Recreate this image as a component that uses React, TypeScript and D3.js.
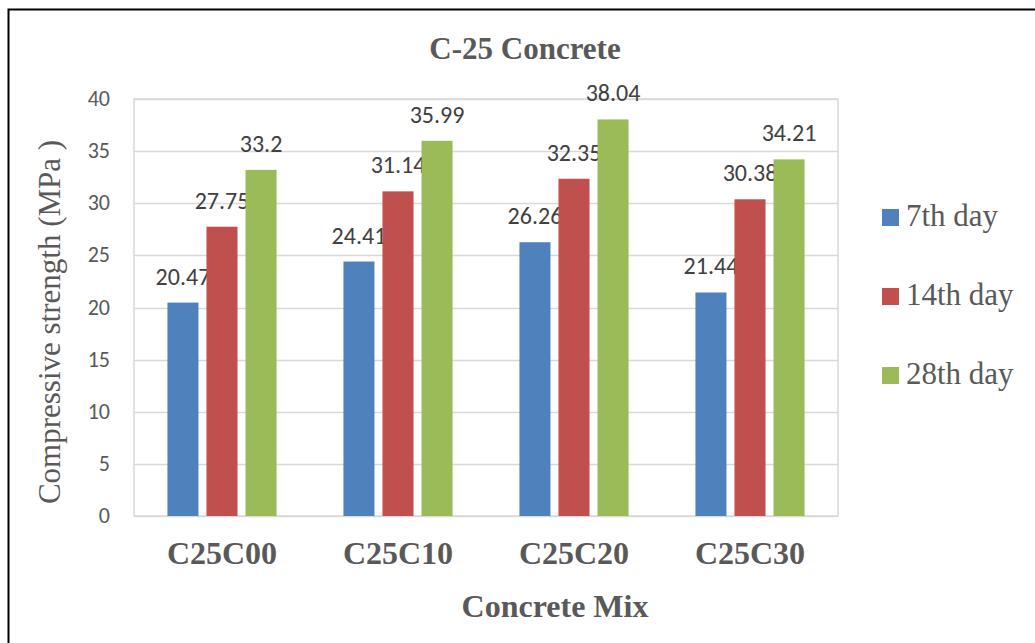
import * as d3 from "d3";

const mixes = ["C25C00", "C25C10", "C25C20", "C25C30"];
const seriesNames = ["7th day", "14th day", "28th day"];
const day7 = [20.47, 24.41, 26.26, 21.44];
const day14 = [27.75, 31.14, 32.35, 30.38];
const day28 = [33.2, 35.99, 38.04, 34.21];
const yTicks = [0, 5, 10, 15, 20, 25, 30, 35, 40];
const colors = ["#4F81BD", "#C0504D", "#9BBB59"];

const W = 1035;
const H = 643;
const plot = { left: 134, top: 99, right: 838, bottom: 516 };

export default function App() {
  const seriesValues = [day7, day14, day28];

  const x0 = d3
    .scaleBand<string>()
    .domain(mixes)
    .range([plot.left, plot.right])
    .paddingInner(0.38)
    .paddingOuter(0.19);

  const x1 = d3
    .scaleBand<string>()
    .domain(seriesNames)
    .range([0, x0.bandwidth()])
    .paddingInner(0.205)
    .paddingOuter(0);

  const y = d3.scaleLinear().domain([0, 40]).range([plot.bottom, plot.top]);

  const serif = "'Liberation Serif', 'Times New Roman', serif";
  const sans = "Carlito, 'Open Sans', 'Liberation Sans', sans-serif";

  return (
    <svg
      width={W}
      height={H}
      style={{ position: "absolute", left: 0, top: 0, background: "#fff" }}
    >
      {/* outer frame */}
      <rect x={8.5} y={9.5} width={1040} height={650} fill="none" stroke="#000" strokeWidth={2} />

      {/* title */}
      <text
        x={525}
        y={59}
        textAnchor="middle"
        fontFamily={serif}
        fontWeight="bold"
        fontSize={31}
        fill="#595959"
      >
        C-25 Concrete
      </text>

      {/* gridlines */}
      {yTicks.map((t) => (
        <line
          key={t}
          x1={plot.left}
          x2={plot.right}
          y1={Math.round(y(t)) + 0.5}
          y2={Math.round(y(t)) + 0.5}
          stroke="#d9d9d9"
          strokeWidth={1.5}
        />
      ))}
      <rect
        x={plot.left}
        y={plot.top}
        width={plot.right - plot.left}
        height={plot.bottom - plot.top}
        fill="none"
        stroke="#d9d9d9"
        strokeWidth={1.5}
      />

      {/* y tick labels */}
      {yTicks.map((t) => (
        <text
          key={t}
          x={110}
          y={y(t) + 7}
          textAnchor="end"
          fontFamily={sans}
          fontSize={22}
          fill="#595959"
        >
          {t}
        </text>
      ))}

      {/* bars */}
      {mixes.map((m, i) => (
        <g key={m} transform={`translate(${x0(m)},0)`}>
          {seriesNames.map((s, j) => {
            const v = seriesValues[j][i];
            const bx = x1(s)!;
            return (
              <g key={s}>
                <rect
                  x={bx}
                  y={y(v)}
                  width={x1.bandwidth()}
                  height={plot.bottom - y(v)}
                  fill={colors[j]}
                />
                <text
                  x={bx + x1.bandwidth() / 2}
                  y={y(v) - 18}
                  textAnchor="middle"
                  fontFamily={sans}
                  fontSize={24}
                  fill="#404040"
                >
                  {v}
                </text>
              </g>
            );
          })}
        </g>
      ))}

      {/* x tick labels */}
      {mixes.map((m) => (
        <text
          key={m}
          x={x0(m)! + x0.bandwidth() / 2}
          y={564}
          textAnchor="middle"
          fontFamily={serif}
          fontWeight="bold"
          fontSize={32}
          fill="#595959"
        >
          {m}
        </text>
      ))}

      {/* axis titles */}
      <text
        x={555}
        y={617}
        textAnchor="middle"
        fontFamily={serif}
        fontWeight="bold"
        fontSize={32}
        fill="#595959"
      >
        Concrete Mix
      </text>
      <text
        transform={`translate(60,322) rotate(-90)`}
        textAnchor="middle"
        fontFamily={serif}
        fontSize={31}
        fill="#595959"
      >
        Compressive strength (MPa )
      </text>

      {/* legend */}
      {seriesNames.map((s, j) => {
        const ly = 226 + j * 79;
        return (
          <g key={s}>
            <rect x={882} y={ly - 17} width={17} height={17} fill={colors[j]} />
            <text x={906} y={ly} fontFamily={serif} fontSize={31} fill="#595959">
              {s}
            </text>
          </g>
        );
      })}
    </svg>
  );
}
